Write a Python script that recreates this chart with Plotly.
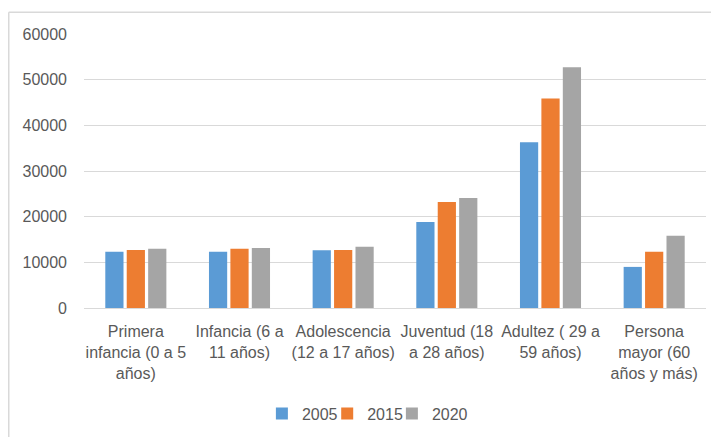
import plotly.graph_objects as go

categories = [
    "Primera<br>infancia (0 a 5<br>años)",
    "Infancia (6 a<br>11 años)",
    "Adolescencia<br>(12 a 17 años)",
    "Juventud (18<br>a 28 años)",
    "Adultez ( 29 a<br>59 años)",
    "Persona<br>mayor (60<br>años y más)",
]
series_names = ["2005", "2015", "2020"]
values_2005 = [12300, 12300, 12650, 18850, 36300, 9000]
values_2015 = [12700, 13000, 12700, 23200, 45900, 12300]
values_2020 = [13000, 13150, 13400, 24100, 52700, 15800]
colors = ["#5B9BD5", "#ED7D31", "#A5A5A5"]
y_ticks = [0, 10000, 20000, 30000, 40000, 50000, 60000]

FONT = "Liberation Sans"
TXT = "#595959"

legend_ids = ["legend", "legend2", "legend3"]
legend_x = [0.286, 0.391, 0.495]

fig = go.Figure()
for name, vals, col, lg in zip(series_names, [values_2005, values_2015, values_2020], colors, legend_ids):
    fig.add_trace(go.Bar(x=categories, y=vals, name=name, legend=lg,
                         marker=dict(color=col, line=dict(width=0))))

legend_common = dict(orientation="h", xanchor="left", y=-0.385, yanchor="middle",
                     font=dict(family=FONT, size=16, color=TXT), itemwidth=30,
                     bgcolor="rgba(0,0,0,0)")

fig.update_layout(
    width=711, height=429,
    margin=dict(l=76, r=13, t=26, b=129, autoexpand=False),
    paper_bgcolor="white", plot_bgcolor="white",
    barmode="group", bargap=0.38, bargroupgap=0.15,
    font=dict(family=FONT, size=16, color=TXT),
    legend=dict(x=legend_x[0], **legend_common),
    legend2=dict(x=legend_x[1], **legend_common),
    legend3=dict(x=legend_x[2], **legend_common),
    showlegend=True,
)
fig.update_xaxes(showgrid=False, showline=False, ticks="", tickangle=0, automargin=False,
                 tickfont=dict(family=FONT, size=16, color=TXT), ticklabelstandoff=12)
fig.update_yaxes(range=[0, 60000], tickvals=y_ticks, ticktext=[str(v) for v in y_ticks],
                 showgrid=True, gridcolor="#D9D9D9", gridwidth=1, automargin=False,
                 zeroline=True, zerolinecolor="#D9D9D9", zerolinewidth=1,
                 showline=False, ticks="", tickfont=dict(family=FONT, size=16, color=TXT),
                 ticklabelstandoff=16)

# chart border (outer frame)
fig.add_shape(type="line", xref="paper", yref="paper", x0=-0.121, x1=1.03, y0=1.079, y1=1.079,
              line=dict(color="#D9D9D9", width=1.5))
fig.add_shape(type="line", xref="paper", yref="paper", x0=-0.121, x1=-0.121, y0=1.079, y1=-0.5,
              line=dict(color="#D9D9D9", width=1.5))

fig.write_html("out.html")
